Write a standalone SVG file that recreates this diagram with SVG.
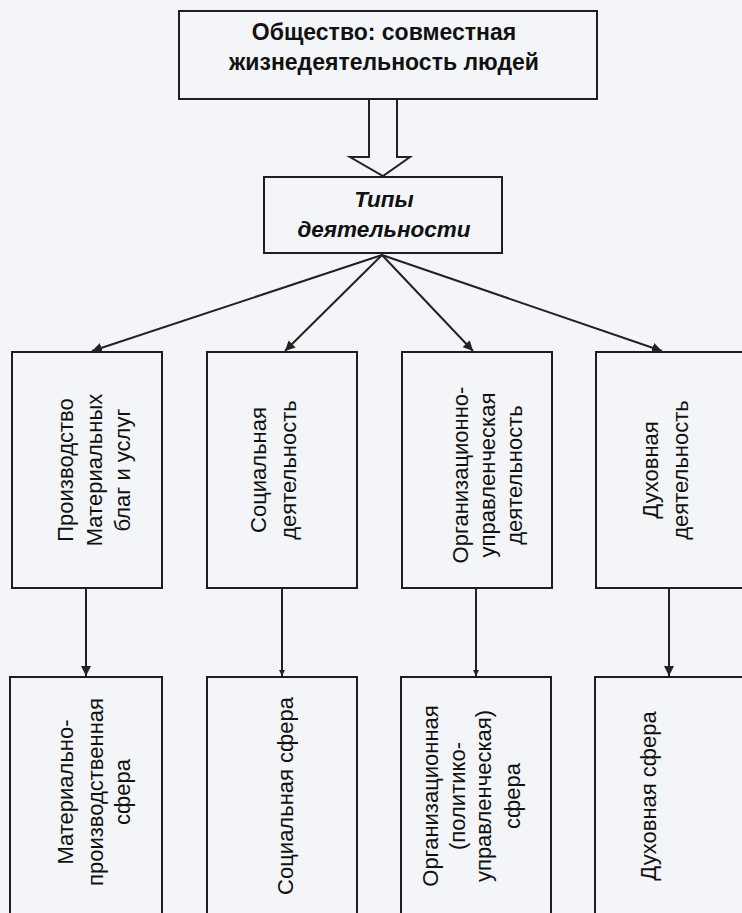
<svg xmlns="http://www.w3.org/2000/svg" width="742" height="913" viewBox="0 0 742 913">
<style>
.box{fill:none;stroke:#1e1e1e;stroke-width:2}
.t{font-family:"Liberation Sans",Arial,sans-serif;font-size:22px;fill:#111;text-anchor:middle}
.tb{font-family:"Liberation Sans",Arial,sans-serif;font-size:23px;font-weight:bold;fill:#111;text-anchor:middle}
.ti{font-family:"Liberation Sans",Arial,sans-serif;font-size:22.5px;font-weight:bold;font-style:italic;fill:#111;text-anchor:middle}
.conn{stroke:#222;stroke-width:2;fill:none}
</style>
<defs>
<marker id="ah" viewBox="0 0 10 10" refX="10" refY="5" markerWidth="5" markerHeight="5" orient="auto" markerUnits="strokeWidth">
<path d="M0,0 L10,5 L0,10 z" fill="#222"/>
</marker>
<marker id="ahs" viewBox="0 0 10 10" refX="10" refY="5" markerWidth="3" markerHeight="3" orient="auto" markerUnits="strokeWidth">
<path d="M0,0 L10,5 L0,10 z" fill="#222"/>
</marker>
</defs>
<rect x="0" y="0" width="742" height="913" fill="#f4f5f9"/>

<g id="society">
<rect class="box" x="179" y="11" width="418" height="88"/>
<text class="tb" x="384" y="40">Общество: совместная</text>
<text class="tb" x="384" y="70">жизнедеятельность людей</text>
</g>

<g id="types">
<rect class="box" x="264" y="177" width="238" height="76"/>
<text class="ti" x="384" y="207">Типы</text>
<text class="ti" x="384" y="237">деятельности</text>
</g>

<g id="n1">
<rect class="box" x="12" y="352" width="150" height="236"/>
<g transform="translate(87,470) rotate(-90)">
<text class="t" x="0" y="-14">Производство</text>
<text class="t" x="0" y="15">Материальных</text>
<text class="t" x="0" y="43">благ и услуг</text>
</g>
</g>

<g id="n2">
<rect class="box" x="207" y="352" width="150" height="236"/>
<g transform="translate(282,470) rotate(-90)">
<text class="t" x="0" y="-16">Социальная</text>
<text class="t" x="0" y="14">деятельность</text>
</g>
</g>

<g id="n3">
<rect class="box" x="402" y="352" width="150" height="236"/>
<g transform="translate(477,475) rotate(-90)">
<text class="t" x="0" y="-9">Организационно-</text>
<text class="t" x="0" y="18">управленческая</text>
<text class="t" x="0" y="45">деятельность</text>
</g>
</g>

<g id="n4">
<rect class="box" x="596" y="352" width="160" height="236"/>
<g transform="translate(669,470) rotate(-90)">
<text class="t" x="0" y="-11">Духовная</text>
<text class="t" x="0" y="19">деятельность</text>
</g>
</g>

<g id="s1">
<rect class="box" x="10" y="677" width="152" height="245"/>
<g transform="translate(86,792) rotate(-90)">
<text class="t" x="0" y="-13">Материально-</text>
<text class="t" x="0" y="17">производственная</text>
<text class="t" x="0" y="44">сфера</text>
</g>
</g>

<g id="s2">
<rect class="box" x="207" y="677" width="150" height="245"/>
<g transform="translate(282,796) rotate(-90)">
<text class="t" x="0" y="11">Социальная сфера</text>
</g>
</g>

<g id="s3">
<rect class="box" x="401" y="677" width="150" height="245"/>
<g transform="translate(476,796) rotate(-90)">
<text class="t" x="0" y="-38">Организационная</text>
<text class="t" x="0" y="-11">(политико-</text>
<text class="t" x="0" y="15">управленческая)</text>
<text class="t" x="0" y="44">сфера</text>
</g>
</g>

<g id="s4">
<rect class="box" x="595" y="677" width="160" height="245"/>
<g transform="translate(669,796) rotate(-90)">
<text class="t" x="0" y="-13">Духовная сфера</text>
</g>
</g>

<g id="connectors">
<path d="M369,100 L369,157 L350,157 L383,176 L410,157 L397,157 L397,100" fill="#f4f5f9" stroke="#222" stroke-width="2" stroke-linejoin="miter"/>
<line class="conn" x1="382" y1="255" x2="92" y2="351" marker-end="url(#ah)"/>
<line class="conn" x1="382" y1="255" x2="285" y2="351" marker-end="url(#ah)"/>
<line class="conn" x1="382" y1="255" x2="473" y2="351" marker-end="url(#ah)"/>
<line class="conn" x1="382" y1="255" x2="662" y2="351" marker-end="url(#ah)"/>
<line class="conn" x1="86" y1="588" x2="86" y2="676" marker-end="url(#ah)"/>
<line class="conn" x1="282" y1="588" x2="282" y2="676" marker-end="url(#ahs)"/>
<line class="conn" x1="476" y1="588" x2="476" y2="676" marker-end="url(#ahs)"/>
<line class="conn" x1="669" y1="588" x2="669" y2="676" marker-end="url(#ah)"/>
</g>
</svg>
